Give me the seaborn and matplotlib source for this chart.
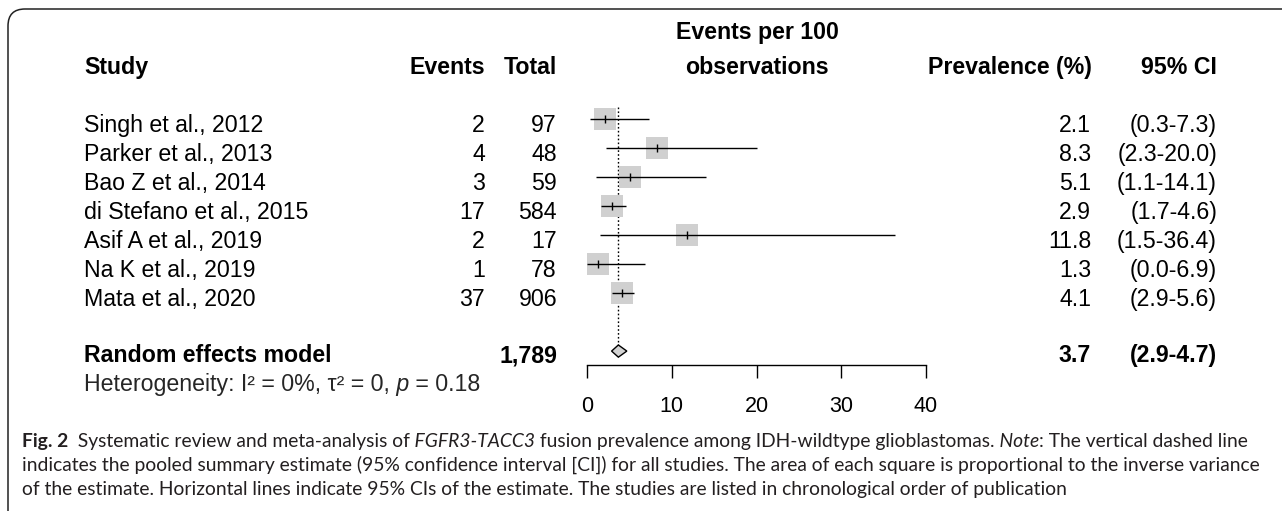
import numpy as np
import pandas as pd
import matplotlib
matplotlib.use("Agg")
import matplotlib.pyplot as plt
import seaborn as sns
from matplotlib import font_manager
from matplotlib.patches import FancyBboxPatch
from matplotlib.transforms import blended_transform_factory

# data
studies = ["Singh et al., 2012", "Parker et al., 2013", "Bao Z et al., 2014",
           "di Stefano et al., 2015", "Asif A et al., 2019", "Na K et al., 2019",
           "Mata et al., 2020"]
events = [2, 4, 3, 17, 2, 1, 37]
totals = [97, 48, 59, 584, 17, 78, 906]
prevalence = [2.1, 8.3, 5.1, 2.9, 11.8, 1.3, 4.1]
ci_low = [0.3, 2.3, 1.1, 1.7, 1.5, 0.0, 2.9]
ci_high = [7.3, 20.0, 14.1, 4.6, 36.4, 6.9, 5.6]
pooled_total = "1,789"
pooled_est = 3.7
pooled_low = 2.9
pooled_high = 4.7
x_ticks = [0, 10, 20, 30, 40]

W, H = 1282, 511
sns.set_theme(style="white")
plt.rcParams["font.family"] = ["Liberation Sans", "DejaVu Sans"]

df = pd.DataFrame({"study": studies, "events": events, "total": totals,
                   "prev": prevalence, "lo": ci_low, "hi": ci_high})
df["row"] = np.arange(len(df))
pooled_row = len(df) + 1

fig = plt.figure(figsize=(W / 100, H / 100), dpi=100)
ax = fig.add_axes([587 / W, 1 - 365 / H, (926 - 587) / W, 362 / H])
ax.patch.set_visible(False)

# squares, CI lines, point ticks
sns.scatterplot(data=df, x="prev", y="row", marker="s", s=250, color="#d0d0d0",
                edgecolor="none", linewidth=0, legend=False, ax=ax, zorder=2)
ax.hlines(df["row"], df["lo"], df["hi"], color="black", lw=1.0, zorder=3)
ax.plot(df["prev"], df["row"], ls="none", marker="|", ms=5.5, mew=1.0,
        color="black", zorder=4)

# pooled estimate: dotted line + diamond
h = 0.21
ax.vlines(pooled_est, -0.4, pooled_row - h, colors="black", linestyles=(0, (1.2, 1.6)),
          lw=1.0, zorder=1)
ax.fill([pooled_low, pooled_est, pooled_high, pooled_est],
        [pooled_row, pooled_row - h, pooled_row, pooled_row + h],
        facecolor="#d3d3d3", edgecolor="black", lw=1.0, zorder=3)

ax.set_xlim(0, 40)
ax.set_ylim(8.48, -4)
ax.set_xlabel("")
ax.set_ylabel("")
ax.set_yticks([])
ax.set_xticks(x_ticks)
for s in ["left", "top", "right"]:
    ax.spines[s].set_visible(False)
ax.spines["bottom"].set_bounds(0, 40)
ax.spines["bottom"].set_color("black")
ax.spines["bottom"].set_linewidth(1.0)
ax.tick_params(axis="x", direction="out", length=9.4, width=1.0, pad=13,
               labelsize=15.5, colors="black", bottom=True)

# table text
FS = 16.7
off = 0.46
trans = blended_transform_factory(fig.transFigure, ax.transData)


def put(xpx, row, s, ha, bold=False):
    ax.text(xpx / W, row + off, s, transform=trans, ha=ha, va="baseline",
            fontsize=FS, fontweight="bold" if bold else "normal",
            color="black", clip_on=False)


hdr = -1.55 - off
put(84, hdr, "Study", "left", True)
put(485, hdr, "Events", "right", True)
put(557, hdr, "Total", "right", True)
put(757, hdr - 1.21, "Events per 100", "center", True)
put(757, hdr, "observations", "center", True)
put(1092, hdr, "Prevalence (%)", "right", True)
put(1217, hdr, "95% CI", "right", True)

for _, r in df.iterrows():
    put(84, r["row"], r["study"], "left")
    put(485, r["row"], str(r["events"]), "right")
    put(557, r["row"], str(r["total"]), "right")
    put(1091, r["row"], f"{r['prev']:.1f}", "right")
    put(1217, r["row"], f"({r['lo']:.1f}-{r['hi']:.1f})", "right")

put(84, pooled_row - 0.08, "Random effects model", "left", True)
put(557, pooled_row - 0.08, pooled_total, "right", True)
put(1091, pooled_row - 0.08, f"{pooled_est:.1f}", "right", True)
put(1217, pooled_row - 0.08, f"({pooled_low:.1f}-{pooled_high:.1f})", "right", True)

renderer = fig.canvas.get_renderer()


def draw_pieces(pieces, x0, y0, size, family):
    arts = []
    x = x0
    for txt, kw in pieces:
        t = fig.text(x / W, 1 - y0 / H, txt, fontsize=size, va="baseline",
                     ha="left", family=family, **kw)
        x = t.get_window_extent(renderer).x1
        arts.append(t)
    return arts, x


# heterogeneity line
het_y = 119 + 29 * (pooled_row + 1) + 11
draw_pieces([("Heterogeneity: I² = 0%, τ² = 0,", {}),
             (" p", {"style": "italic"}),
             (" = 0.18", {})], 84, het_y, FS, ["Liberation Sans", "DejaVu Sans"])

# caption
names = {f.name for f in font_manager.fontManager.ttflist}
cap_font = next(f for f in ["Lato", "Open Sans", "Noto Sans"] if f in names)
cap_col = "#231f20"
line1 = [("Fig. 2", {"weight": "bold"}),
         ("  Systematic review and meta-analysis of", {}),
         (" FGFR3-TACC3", {"style": "italic"}),
         (" fusion prevalence among IDH-wildtype glioblastomas.", {}),
         (" Note", {"style": "italic"}),
         (": The vertical dashed line", {})]
line2 = [("indicates the pooled summary estimate (95% confidence interval [CI]) for all "
          "studies. The area of each square is proportional to the inverse variance", {})]
line3 = [("of the estimate. Horizontal lines indicate 95% CIs of the estimate. "
          "The studies are listed in chronological order of publication", {})]

arts, xend = draw_pieces(line1, 22, 447, 12, cap_font)
cap_size = 12 * (1244 - 22) / (xend - 22)
for a in arts:
    a.remove()
for ln, y in zip([line1, line2, line3], [447, 471, 495]):
    arts, _ = draw_pieces(ln, 22, y, cap_size, cap_font)
    for a in arts:
        a.set_color(cap_col)

# rounded frame (only top and left edges visible)
frame = FancyBboxPatch((8, -60), 1400, H - 9 + 60, boxstyle="round,pad=0,rounding_size=17",
                       transform=None, facecolor="none", edgecolor="#222222", lw=1.1)
fig.add_artist(frame)

fig.savefig("out.png", dpi=100)
